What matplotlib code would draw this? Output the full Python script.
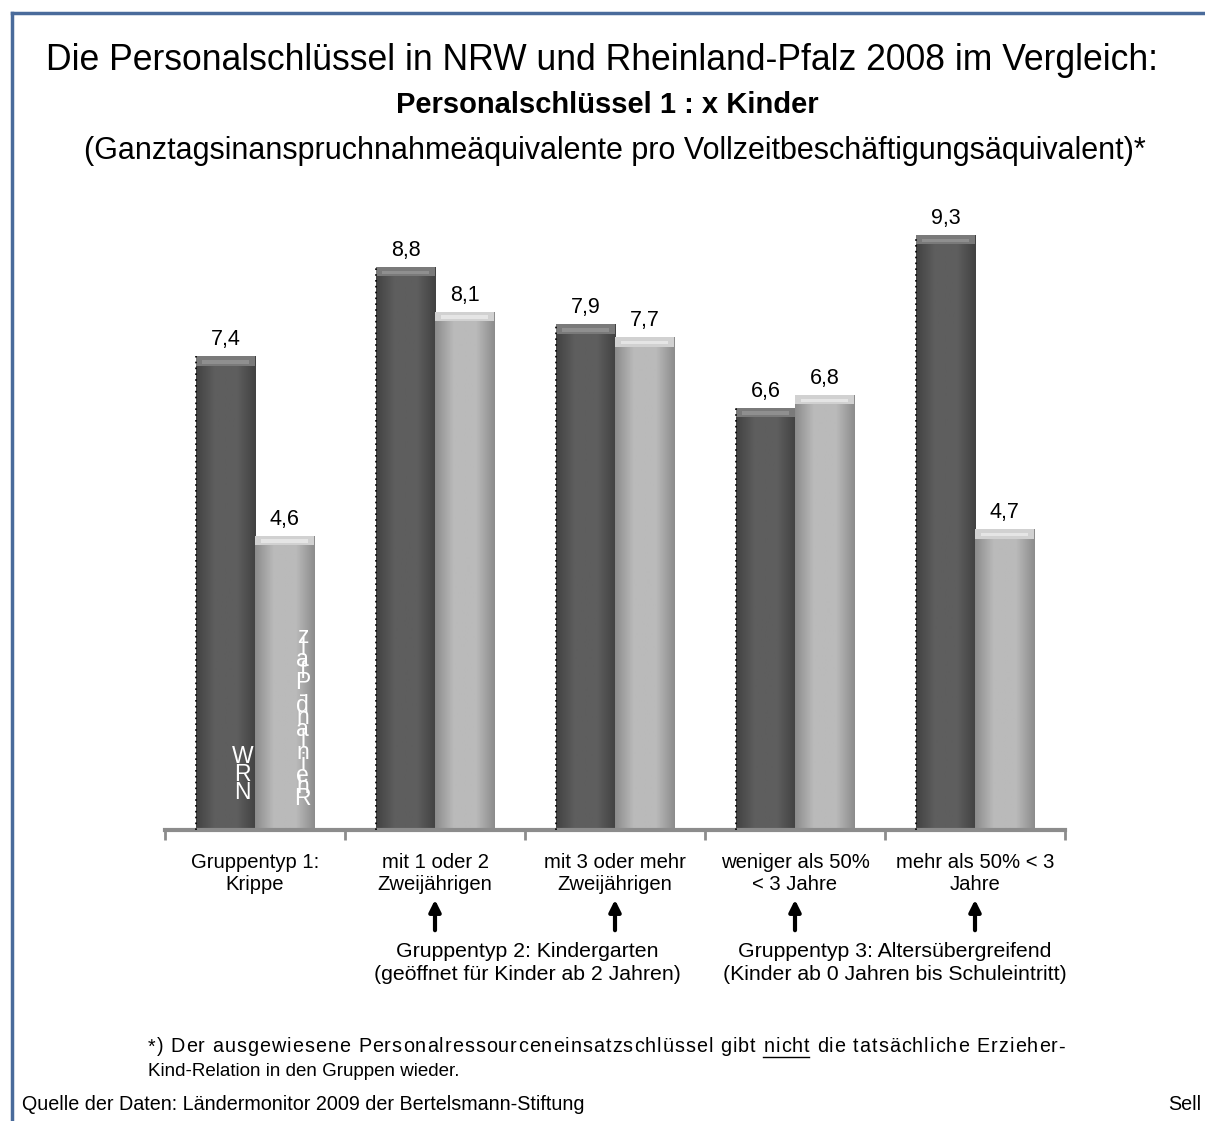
import matplotlib
matplotlib.use("Agg")
import matplotlib.pyplot as plt
import numpy as np
from matplotlib.lines import Line2D
from matplotlib.font_manager import FontProperties

plt.rcParams['font.family'] = ['Liberation Sans', 'DejaVu Sans']

categories = ["Gruppentyp 1:\nKrippe", "mit 1 oder 2\nZweijährigen", "mit 3 oder mehr\nZweijährigen",
              "weniger als 50%\n< 3 Jahre", "mehr als 50% < 3\nJahre"]
nrw = [7.4, 8.8, 7.9, 6.6, 9.3]
rlp = [4.6, 8.1, 7.7, 6.8, 4.7]
value_labels_nrw = ["7,4", "8,8", "7,9", "6,6", "9,3"]
value_labels_rlp = ["4,6", "8,1", "7,7", "6,8", "4,7"]
series_names = ["NRW", "Rheinland-Pfalz"]

W, H = 1205, 1121
fig = plt.figure(figsize=(W / 100, H / 100), dpi=100)

def fx(x):
    return x / W

def fy(y):
    return 1 - y / H

# border
border_c = '#4a6b9b'
fig.add_artist(Line2D([fx(12), fx(1205)], [fy(13), fy(13)], color=border_c, lw=2.5))
fig.add_artist(Line2D([fx(12), fx(12)], [fy(13), fy(1121)], color=border_c, lw=2.5))

# titles
fig.text(fx(602), fy(60), "Die Personalschlüssel in NRW und Rheinland-Pfalz 2008 im Vergleich:",
         ha='center', va='center', fontsize=25.6)
fig.text(fx(607), fy(105), "Personalschlüssel 1 : x Kinder", ha='center', va='center',
         fontsize=21, fontweight='bold')
fig.text(fx(615), fy(151), "(Ganztagsinanspruchnahmeäquivalente pro Vollzeitbeschäftigungsäquivalent)*",
         ha='center', va='center', fontsize=22)

# axes
ax = fig.add_axes([fx(165), fy(830), 900 / W, 640 / H])
ax.set_xlim(-0.5, 4.5)
ax.set_ylim(0, 10)
for s in ['top', 'right', 'left']:
    ax.spines[s].set_visible(False)
ax.spines['bottom'].set_color('#8c8c8c')
ax.spines['bottom'].set_linewidth(3)
ax.set_yticks([])
ax.set_xticks(np.arange(-0.5, 5.0, 1.0))
ax.set_xticklabels([])
ax.tick_params(axis='x', length=7, width=2, color='#8c8c8c', direction='out')

x = np.arange(len(categories))
bw = 0.328
b1 = ax.bar(x - bw / 2, nrw, bw, color='#555555', zorder=2)
b2 = ax.bar(x + bw / 2, rlp, bw, color='#a8a8a8', zorder=2)

def shade(bars, dark, light, capc):
    for p in bars:
        x0, y0 = p.get_x(), p.get_y()
        w, h = p.get_width(), p.get_height()
        t = np.linspace(0, 1, 64)
        prof = 1 - np.abs(t - 0.5) * 2
        prof = np.clip(prof * 1.6, 0, 1)
        grad = np.array([dark + (light - dark) * prof])
        im = ax.imshow(grad, extent=(x0, x0 + w, y0, y0 + h), aspect='auto', cmap='gray',
                       vmin=0, vmax=1, zorder=2.5, interpolation='bilinear')
        im.set_clip_path(p)
        cap = 0.15
        ax.bar(x0 + w / 2, cap, w, bottom=y0 + h - cap, color=capc, zorder=2.6, edgecolor='none')
        ax.bar(x0 + w / 2, cap * 0.35, w * 0.8, bottom=y0 + h - cap * 0.75,
               color=str(min(1, float(capc) + 0.08)), zorder=2.7, edgecolor='none')

shade(b1, 0.26, 0.37, '0.48')
shade(b2, 0.55, 0.73, '0.82')

# dotted left edge of dark bars
ax.vlines(x - bw, 0, nrw, colors='black', linestyles=(0, (1, 2.5)), lw=1.2, zorder=3)

for xi, v, lab in zip(x, nrw, value_labels_nrw):
    ax.annotate(lab, (xi - bw / 2, v), xytext=(0, 6), textcoords='offset pixels',
                ha='center', va='bottom', fontsize=15.5)
for xi, v, lab in zip(x, rlp, value_labels_rlp):
    ax.annotate(lab, (xi + bw / 2, v), xytext=(0, 6), textcoords='offset pixels',
                ha='center', va='bottom', fontsize=15.5)

# series names stacked inside first bars
ax.annotate("\n".join(reversed(series_names[0])), (0 - bw / 2, 0), xytext=(17, 26),
            textcoords='offset pixels', ha='center', va='bottom', fontsize=16.5,
            color='white', linespacing=0.72, zorder=5)
ax.annotate("\n".join(reversed(series_names[1])), (0 + bw / 2, 0), xytext=(18, 20),
            textcoords='offset pixels', ha='center', va='bottom', fontsize=16.5,
            color='white', linespacing=0.365, zorder=5)

# category labels
for xi, lab in zip(x, categories):
    ax.annotate(lab, (xi, 0), xycoords=('data', 'axes fraction'), xytext=(0, -23),
                textcoords='offset pixels', ha='center', va='top', fontsize=14.6,
                linespacing=1.17, annotation_clip=False)

# arrows
def yfrac(ypx):
    return (830 - ypx) / 640

for xi in [1, 2, 3, 4]:
    ax.annotate('', xy=(xi, yfrac(897)), xytext=(xi, yfrac(933)),
                xycoords=('data', 'axes fraction'), textcoords=('data', 'axes fraction'),
                arrowprops=dict(arrowstyle='-|>', lw=3, color='black', mutation_scale=17),
                annotation_clip=False)

fig.text(fx(527), fy(963), "Gruppentyp 2: Kindergarten\n(geöffnet für Kinder ab 2 Jahren)",
         ha='center', va='center', fontsize=15.3, linespacing=1.27)
fig.text(fx(895), fy(963), "Gruppentyp 3: Altersübergreifend\n(Kinder ab 0 Jahren bis Schuleintritt)",
         ha='center', va='center', fontsize=15.3, linespacing=1.27)

# footnote: first line spread (letter-tracked) from x=148 to x=1065, "nicht" underlined
fs = 14.2
line1 = "*) Der ausgewiesene Personalressourceneinsatzschlüssel gibt nicht die tatsächliche Erzieher-"
underlined = "nicht"
fig.canvas.draw()
r = fig.canvas.get_renderer()
prop = FontProperties(family=['Liberation Sans'], size=fs)

def tw(s):
    if not s:
        return 0.0
    w1, _, _ = r.get_text_width_height_descent(s + "|", prop, ismath=False)
    w0, _, _ = r.get_text_width_height_descent("|", prop, ismath=False)
    return w1 - w0

natural = tw(line1)
x_start, x_end = 148, 1065
track = (x_end - x_start - natural) / (len(line1) - 1)
pos = [x_start + tw(line1[:i]) + i * track for i in range(len(line1))]
for ch, px in zip(line1, pos):
    if ch != " ":
        fig.text(fx(px), fy(1047), ch, ha='left', va='center', fontsize=fs)
iu = line1.index(underlined)
u0 = pos[iu]
u1 = pos[iu + len(underlined) - 1] + tw(underlined[-1])
fig.add_artist(Line2D([fx(u0), fx(u1)], [fy(1057), fy(1057)], color='black', lw=1))
fig.text(fx(148), fy(1071), "Kind-Relation in den Gruppen wieder.", ha='left', va='center', fontsize=13.5)

fig.text(fx(22), fy(1105), "Quelle der Daten: Ländermonitor 2009 der Bertelsmann-Stiftung",
         ha='left', va='center', fontsize=14.2)
fig.text(fx(1168), fy(1105), "Sell", ha='left', va='center', fontsize=14.2)

fig.savefig("out.png", dpi=100)
